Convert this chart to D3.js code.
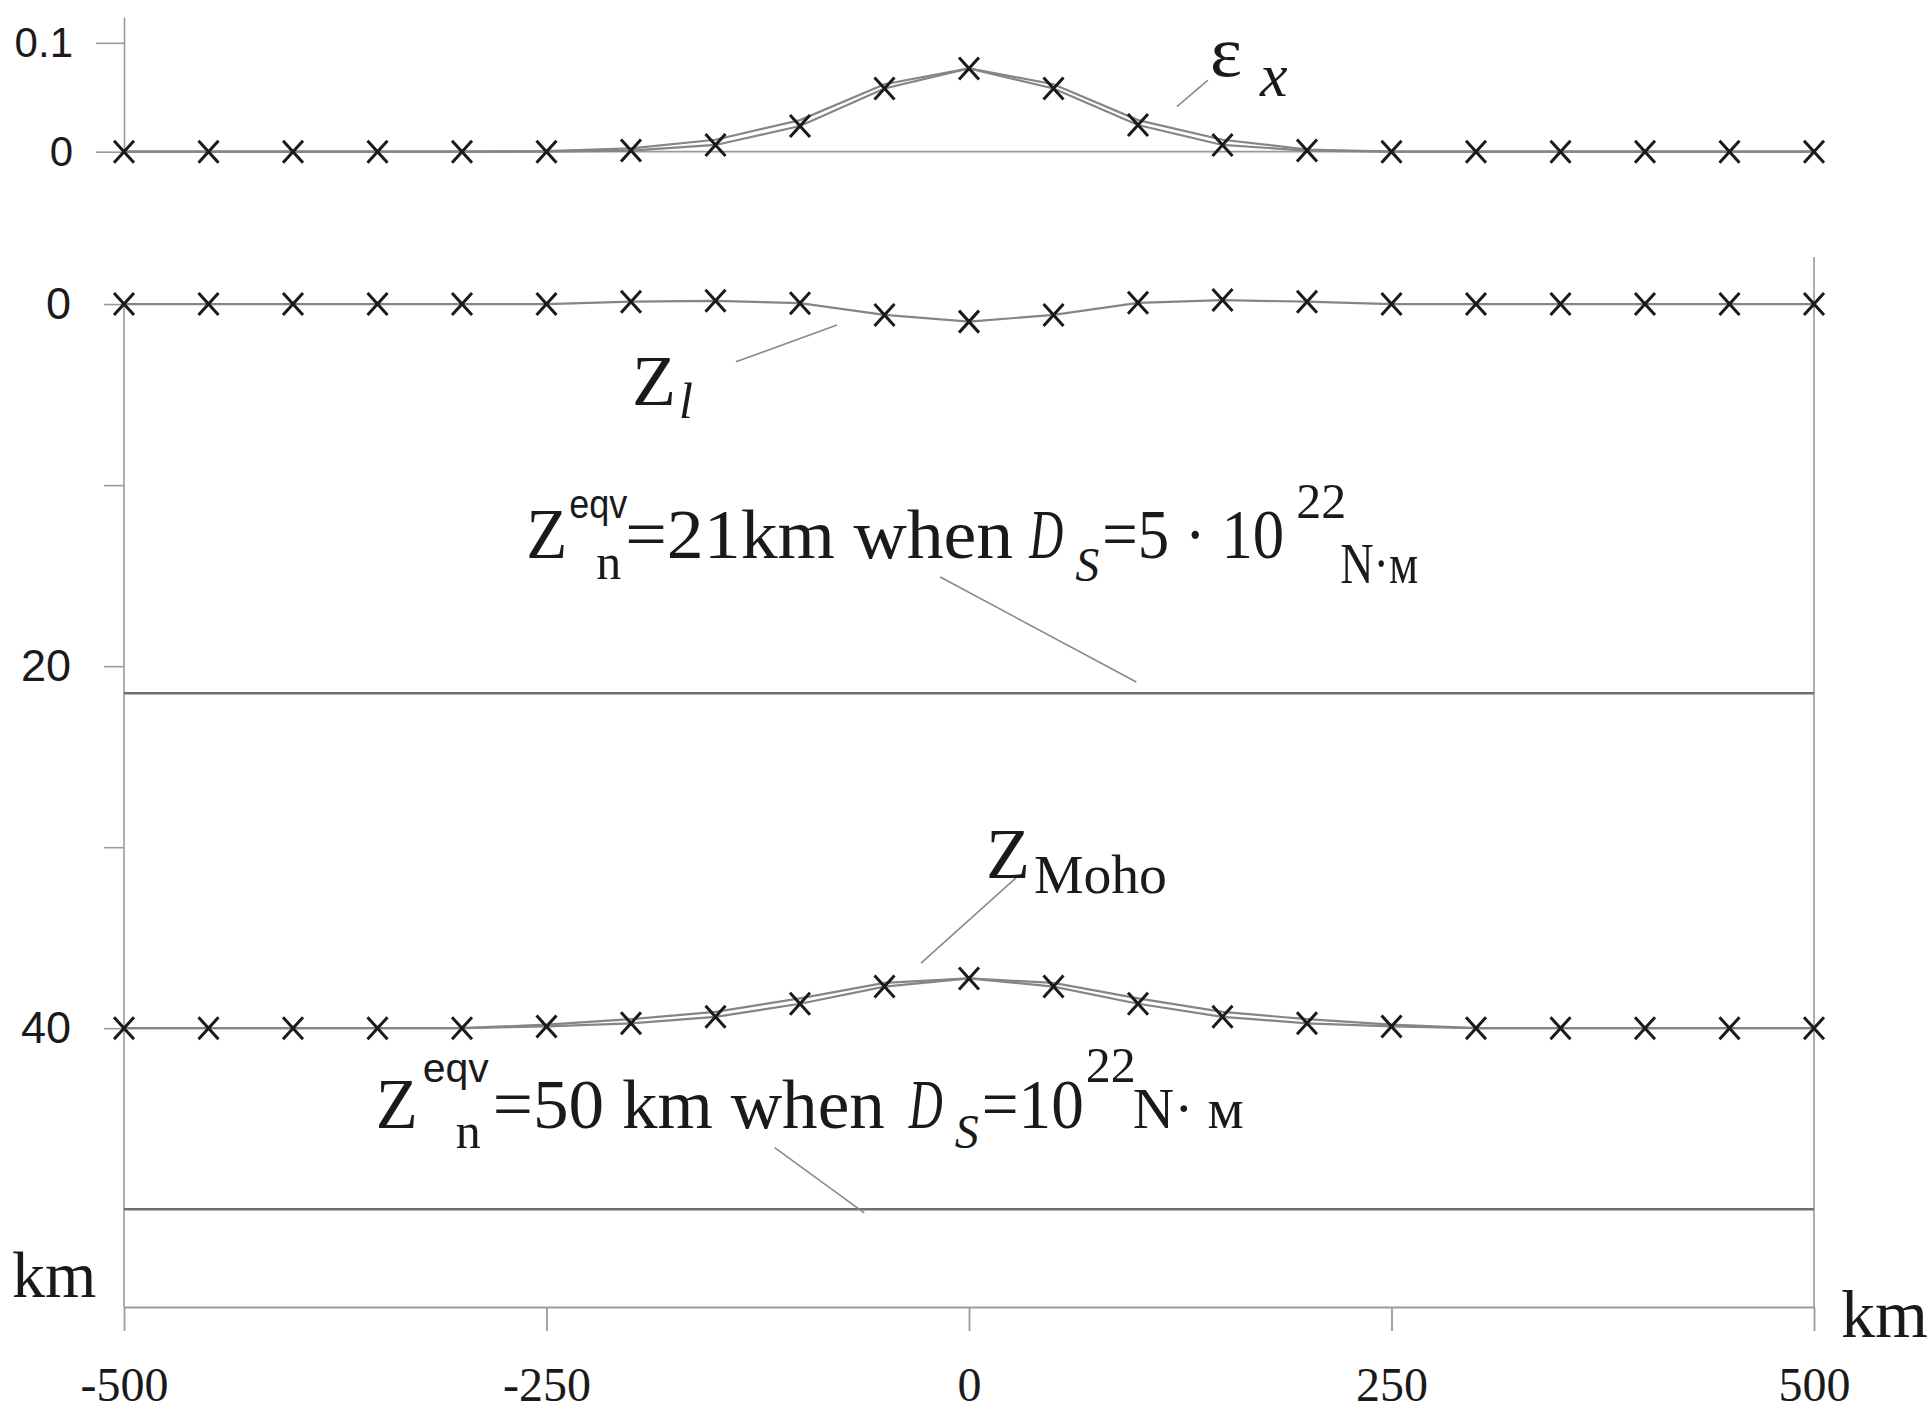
<!DOCTYPE html>
<html>
<head>
<meta charset="utf-8">
<script src="https://cdn.jsdelivr.net/npm/d3@7"></script>
<style>
body { margin: 0; background: #fff; }
svg { display: block; }
</style>
</head>
<body>
<div id="chart"></div>
<script>
// profile positions, km
var distance = [-500, -450, -400, -350, -300, -250, -200, -150, -100, -50, 0,
                50, 100, 150, 200, 250, 300, 350, 400, 450, 500];

// strain eps_x, two curves (the crosses sit on the first)
var epsA = [0, 0, 0, 0, 0, 0, 0.001, 0.0062, 0.0236, 0.058, 0.0765,
            0.058, 0.0245, 0.0062, 0.001, 0, 0, 0, 0, 0, 0];
var epsB = [0, 0, 0, 0, 0, 0.0005, 0.003, 0.011, 0.029, 0.062, 0.0765,
            0.062, 0.029, 0.011, 0.002, 0, 0, 0, 0, 0, 0];

// surface Z_l, km (depth positive down)
var zLitho = [0, 0, 0, 0, 0, 0, -0.13, -0.18, -0.05, 0.6, 0.97,
              0.6, -0.07, -0.22, -0.13, 0, 0, 0, 0, 0, 0];

// Moho depth, km, two curves
var mohoA = [40, 40, 40, 40, 40, 39.9, 39.73, 39.37, 38.65, 37.7, 37.25,
             37.7, 38.65, 39.37, 39.73, 39.9, 40, 40, 40, 40, 40];
var mohoB = [40, 40, 40, 40, 40, 39.8, 39.5, 39.1, 38.35, 37.5, 37.25,
             37.5, 38.35, 39.1, 39.5, 39.8, 40, 40, 40, 40, 40];

// equivalent depths, km
var zEqv = [21.5, 50];

var xTicks = [-500, -250, 0, 250, 500];
var epsTicks = [0, 0.1];
var depthTicks = [0, 10, 20, 30, 40];
var depthLabels = [0, 20, 40];

var width = 1931, height = 1411;
var serif = "'Liberation Serif', 'Times New Roman', serif";
var sans = "'Liberation Sans', Arial, sans-serif";
var lineGrey = "#858585", axisGrey = "#9a9a9a", ink = "#1a1a1a";

var svg = d3.select("#chart").append("svg")
    .attr("width", width)
    .attr("height", height)
    .style("background", "#fff");

var x = d3.scaleLinear().domain([-500, 500]).range([124, 1814]);
var yEps = d3.scaleLinear().domain([0, 0.1237]).range([151.7, 17]);
var yDepth = d3.scaleLinear().domain([-2.6, 55.4]).range([257, 1307]);

// ---------- top panel: eps_x ----------
var epsAxis = svg.append("g")
    .attr("transform", "translate(" + x(-500) + ",0)")
    .call(d3.axisLeft(yEps).tickValues(epsTicks).tickSize(28).tickSizeOuter(0)
        .tickFormat(function(d) { return d === 0 ? "0" : "0.1"; }));
epsAxis.selectAll("path, line").attr("stroke", axisGrey).attr("stroke-width", 1.6);
epsAxis.selectAll("text")
    .attr("x", -51).attr("text-anchor", "end")
    .style("font-family", sans).style("font-size", "42px").attr("fill", ink);

svg.append("line")
    .attr("x1", x(-500)).attr("x2", x(500))
    .attr("y1", yEps(0)).attr("y2", yEps(0))
    .attr("stroke", axisGrey).attr("stroke-width", 1.8);

var epsLine = d3.line()
    .x(function(d, i) { return x(distance[i]); })
    .y(function(d) { return yEps(d); });

[epsB, epsA].forEach(function(s) {
    svg.append("path").datum(s)
        .attr("d", epsLine)
        .attr("fill", "none").attr("stroke", lineGrey).attr("stroke-width", 2.2);
});

// ---------- lower panel: depths ----------
var depthAxis = svg.append("g")
    .attr("transform", "translate(" + x(-500) + ",0)")
    .call(d3.axisLeft(yDepth).tickValues(depthTicks).tickSize(20).tickPadding(33)
        .tickFormat(function(d) { return depthLabels.indexOf(d) >= 0 ? d : ""; }));
depthAxis.select(".domain").remove();
depthAxis.selectAll("line").attr("stroke", axisGrey).attr("stroke-width", 1.6);
depthAxis.selectAll("text")
    .style("font-family", sans).style("font-size", "45px").attr("fill", ink);

svg.append("line")
    .attr("x1", x(-500)).attr("x2", x(-500))
    .attr("y1", yDepth(0)).attr("y2", yDepth(55.4))
    .attr("stroke", axisGrey).attr("stroke-width", 1.6);
svg.append("line")
    .attr("x1", x(500)).attr("x2", x(500))
    .attr("y1", yDepth(-2.6)).attr("y2", yDepth(55.4))
    .attr("stroke", axisGrey).attr("stroke-width", 1.6);

var xAxis = svg.append("g")
    .attr("transform", "translate(0," + yDepth(55.4) + ")")
    .call(d3.axisBottom(x).tickValues(xTicks).tickSize(24).tickPadding(36).tickSizeOuter(0)
        .tickFormat(function(d) { return String(d); }));
xAxis.selectAll("path, line").attr("stroke", axisGrey).attr("stroke-width", 1.8);
xAxis.selectAll("text")
    .style("font-family", serif).style("font-size", "48px").attr("fill", ink);

svg.selectAll(".eqv")
    .data(zEqv).enter().append("line")
    .attr("class", "eqv")
    .attr("x1", x(-500)).attr("x2", x(500))
    .attr("y1", function(d) { return yDepth(d); })
    .attr("y2", function(d) { return yDepth(d); })
    .attr("stroke", "#6e6e6e").attr("stroke-width", 2.6);

var depthLine = d3.line()
    .x(function(d, i) { return x(distance[i]); })
    .y(function(d) { return yDepth(d); });

[zLitho, mohoB, mohoA].forEach(function(s) {
    svg.append("path").datum(s)
        .attr("d", depthLine)
        .attr("fill", "none").attr("stroke", lineGrey).attr("stroke-width", 2.2);
});

// crosses
var cross = "M-10,-11L10,11M-10,11L10,-11";
function drawCrosses(series, yScale) {
    svg.append("g").selectAll("path")
        .data(series).enter().append("path")
        .attr("d", cross)
        .attr("transform", function(d, i) {
            return "translate(" + x(distance[i]) + "," + yScale(d) + ")";
        })
        .attr("fill", "none").attr("stroke", ink).attr("stroke-width", 3);
}
drawCrosses(epsA, yEps);
drawCrosses(zLitho, yDepth);
drawCrosses(mohoA, yDepth);

// ---------- leader lines (data coordinates) ----------
var leaders = [
    { y: yEps,   x1: 123,    v1: 0.0413, x2: 141.4, v2: 0.0657 },
    { y: yDepth, x1: -137.9, v1: 3.19,   x2: -78.1, v2: 1.16 },
    { y: yDepth, x1: -17,    v1: 15.08,  x2: 99,    v2: 20.88 },
    { y: yDepth, x1: -28.4,  v1: 36.4,   x2: 27.8,  v2: 31.7 },
    { y: yDepth, x1: -115,   v1: 46.6,   x2: -62,   v2: 50.2 }
];
leaders.forEach(function(l) {
    svg.append("line")
        .attr("x1", x(l.x1)).attr("y1", l.y(l.v1))
        .attr("x2", x(l.x2)).attr("y2", l.y(l.v2))
        .attr("stroke", "#8a8a8a").attr("stroke-width", 1.6);
});

// ---------- labels ----------
function label(px, py, parts) {
    var g = svg.append("g").attr("transform", "translate(" + px + "," + py + ")");
    parts.forEach(function(p) {
        var t = g.append("text")
            .attr("x", p.dx || 0).attr("y", p.dy || 0)
            .style("font-family", p.sans ? sans : serif)
            .style("font-size", p.size + "px")
            .style("font-style", p.it ? "italic" : "normal")
            .attr("fill", ink)
            .text(p.t);
        if (p.w) t.attr("textLength", p.w).attr("lengthAdjust", "spacingAndGlyphs");
    });
}

label(x(142.6), yEps(0.0694), [
    { t: "\u03b5", size: 72, w: 32 },
    { t: "x", dx: 50, dy: 20, size: 62, it: true }
]);

label(x(-199.4), yDepth(5.55), [
    { t: "Z", size: 72, w: 44 },
    { t: "l", dx: 47, dy: 13, size: 50, it: true }
]);

label(x(-262), yDepth(14), [
    { t: "Z", size: 72, w: 41 },
    { t: "eqv", dx: 43, dy: -40, size: 40, sans: true, w: 58 },
    { t: "n", dx: 70, dy: 21, size: 50 },
    { t: "=21km when", dx: 99, size: 70, w: 388 },
    { t: "D", dx: 503, size: 70, it: true, w: 34 },
    { t: "S", dx: 549, dy: 23, size: 48, it: true },
    { t: "=5 \u00b7 10", dx: 576, size: 70, w: 182 },
    { t: "22", dx: 770, dy: -40, size: 50 },
    { t: "N\u00b7\u043c", dx: 814, dy: 25, size: 56, w: 78 }
]);

label(x(10), yDepth(31.7), [
    { t: "Z", size: 72, w: 44 },
    { t: "Moho", dx: 48, dy: 15, size: 54, w: 133 }
]);

label(x(-351), yDepth(45.5), [
    { t: "Z", size: 72, w: 42 },
    { t: "eqv", dx: 47, dy: -46, size: 40, sans: true, w: 66 },
    { t: "n", dx: 80, dy: 20, size: 50 },
    { t: "=50 km when", dx: 117, size: 70, w: 392 },
    { t: "D", dx: 533, size: 70, it: true, w: 34 },
    { t: "S", dx: 579, dy: 20, size: 48, it: true },
    { t: "=10", dx: 606, size: 70, w: 102 },
    { t: "22", dx: 710, dy: -46, size: 50 },
    { t: "N\u00b7 \u043c", dx: 757, size: 56, w: 111 }
]);

// axis units
svg.append("text")
    .attr("x", 12).attr("y", 1297)
    .style("font-family", serif).style("font-size", "66px").attr("fill", ink)
    .text("km");
svg.append("text")
    .attr("x", 1841).attr("y", 1337)
    .style("font-family", serif).style("font-size", "68px").attr("fill", ink)
    .text("km");
</script>
</body>
</html>
